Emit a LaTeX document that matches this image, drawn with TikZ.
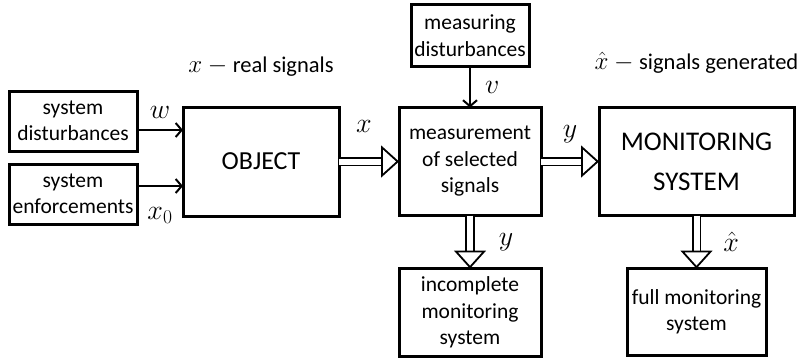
\RequirePackage{fix-cm}
\documentclass[tikz,border=0pt]{standalone}
\usepackage{fontspec}
\setmainfont{Carlito}
\usepackage{tikz}
\usetikzlibrary{positioning}
\usetikzlibrary{arrows.meta}

\begin{document}
\begin{tikzpicture}[
    font = \fontsize{21.5}{26.5}\selectfont,
    blockf/.style = {
      rectangle,
      draw,
      line width=3pt,
      align=center,
      inner sep=0pt,
      outer sep=0pt
    },
    sigin/.style = {
      line width=2pt,
      -{Straight Barb[length=6pt,width=14pt]}
    },
    sigout/.style = {
      double,
      double distance=6pt,
      line width=1.8pt,
      -{Triangle[open, length=18pt, width=32pt]}
    },
    sym/.style = {
      font=\fontsize{28}{29}\selectfont,
      inner sep=0pt
    },
    notef/.style = {
      font=\fontsize{22.5}{26}\selectfont,
      inner sep=0pt
    }
  ]
    \useasboundingbox (0,0) rectangle (803pt,-360pt);

    \node[blockf, minimum width=156pt, minimum height=109pt,
      font=\fontsize{26}{30}\selectfont] (object) at (261pt,-161.5pt) {OBJECT};
    \node[blockf, minimum width=128pt, minimum height=60pt] (sysdist)
      [left=46pt of object, yshift=40.5pt] {system\\disturbances};
    \node[blockf, minimum width=128pt, minimum height=60pt] (sysenf)
      [below=13pt of sysdist] {system\\enforcements};
    \node[blockf, minimum width=142pt, minimum height=108pt] (meas)
      [right=60pt of object] {measurement\\of selected\\signals};
    \node[blockf, minimum width=118pt, minimum height=62pt] (measdist)
      [above=41pt of meas] {measuring\\disturbances};
    \node[blockf, minimum width=195pt, minimum height=108pt,
      font=\fontsize{27}{40}\selectfont] (monitor)
      [right=58pt of meas] {MONITORING\\SYSTEM};
    \node[blockf, minimum width=142pt, minimum height=88pt] (incompl)
      [below=53pt of meas] {incomplete\\monitoring\\system};
    \node[blockf, minimum width=139pt, minimum height=87pt] (full)
      [below=53pt of monitor] {full monitoring\\system};

    % titles
    \node[notef] (realtxt) [above=30pt of object] {\fontsize{25}{26}\selectfont$x-{}$\fontsize{22.5}{26}\selectfont real signals};
    \node[notef] (gentxt) [above=34pt of monitor] {\fontsize{25}{26}\selectfont$\hat{x}-{}$\fontsize{22.5}{26}\selectfont signals generated};

    % inputs
    \draw[sigin] ([yshift=-9pt]sysdist.east) -- ([yshift=-9pt]sysdist.east -| object.west)
      node[sym, midway, above=11pt] (lw) {$w$};
    \draw[sigin] ([yshift=8pt]sysenf.east) -- ([yshift=8pt]sysenf.east -| object.west)
      node[sym, midway, below=20pt] (lx0) {$x_0$};
    \draw[sigin] (measdist.south) -- (measdist.south |- meas.north)
      node[sym, midway, right=14pt] (lv) {$v$};

    % signals
    \draw[sigout] (object) -- (meas)
      node[sym, midway, above=28pt, xshift=-5pt] (lx) {$x$};
    \draw[sigout] (meas) -- (monitor)
      node[sym, midway, above=18pt] (ly) {$y$};
    \draw[sigout] (meas) -- (incompl)
      node[sym, midway, right=28pt] (lyd) {$y$};
    \draw[sigout] (monitor) -- (full)
      node[sym, midway, right=26pt] (lxh) {$\hat{x}$};

  \end{tikzpicture}
\end{document}
